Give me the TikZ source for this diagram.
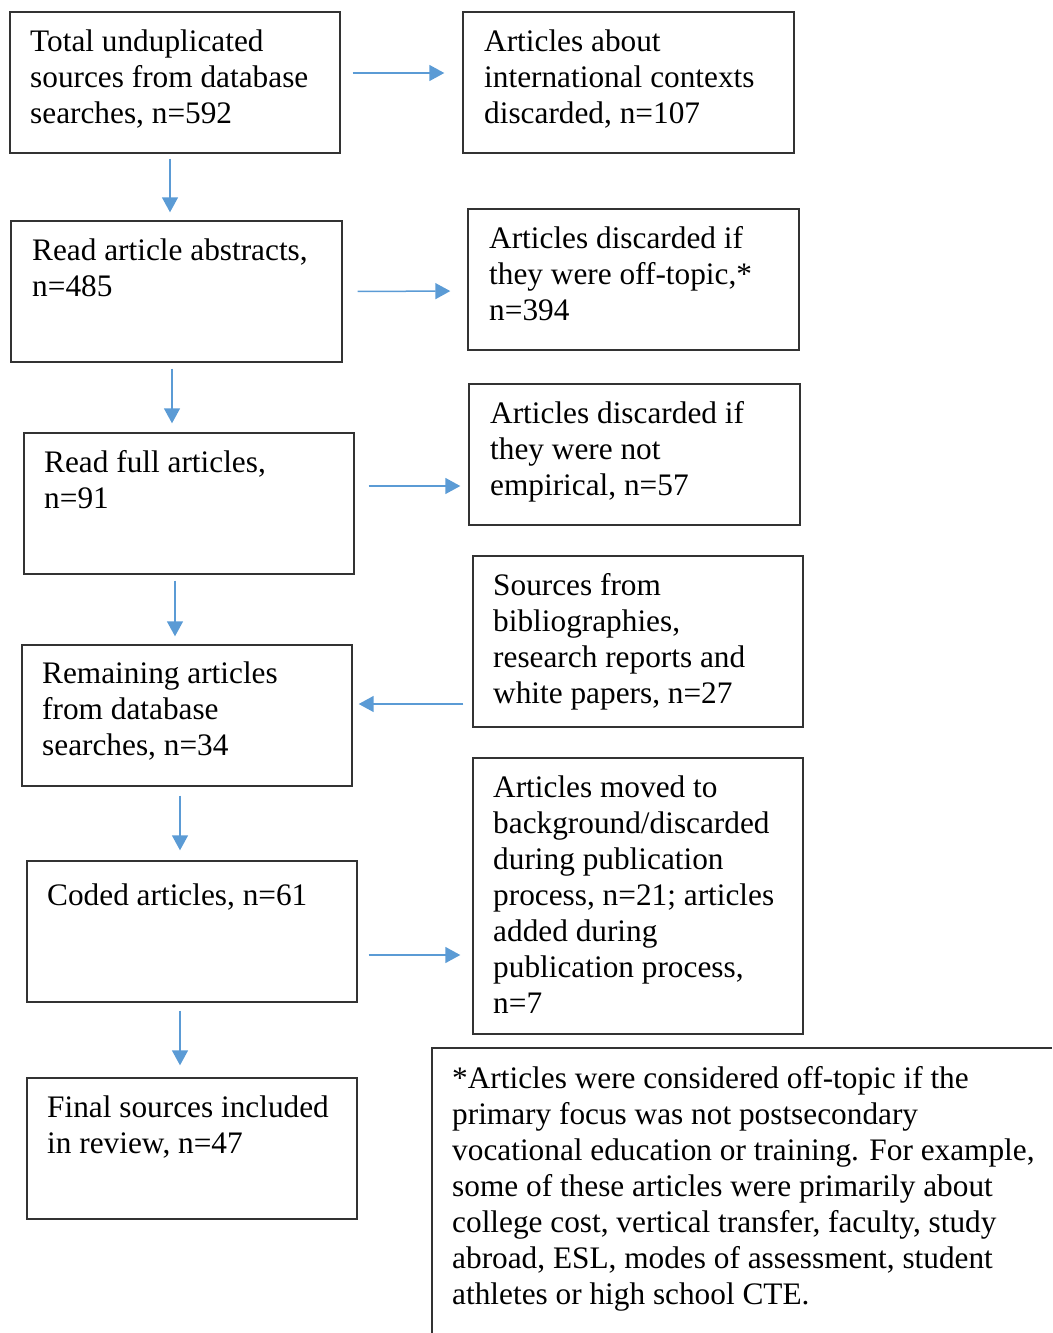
\documentclass[tikz,border=0pt]{standalone}
\usepackage{fontspec}
\setmainfont{Liberation Serif}
\usetikzlibrary{arrows.meta}
\definecolor{arrblue}{HTML}{5B9BD5}
\definecolor{boxline}{HTML}{333333}
\tikzset{
  box/.style={draw=boxline, line width=1.4pt, minimum height=141pt, minimum width=330pt, inner sep=0pt},
  txt/.style={anchor=north west, align=left, inner sep=0pt, font=\fontsize{31.3}{36}\selectfont, execute at begin node=\strut, yshift=22.4pt},
  arr/.style={draw=arrblue, line width=1.5pt, -{Triangle[length=15pt,width=16pt]}}
}
\begin{document}
\begin{tikzpicture}[x=1pt,y=-1pt]
\useasboundingbox (0,0) rectangle (1052,1333);
% boxes
\node[box] (total) at (175,82.5) {};
\node[box, minimum width=331pt] (intl) at (628.5,82.5) {};
\node[box, minimum width=331pt] (abs) at (176.5,291.5) {};
\node[box, minimum width=331pt] (off) at (633.5,279.5) {};
\node[box] (full) at (189,503.5) {};
\node[box, minimum width=331pt] (emp) at (634.5,454.5) {};
\node[box, minimum height=171pt] (src) at (638,641.5) {};
\node[box] (rem) at (187,715.5) {};
\node[box] (coded) at (192,931.5) {};
\node[box, minimum height=276pt] (moved) at (638,896) {};
\node[box] (final) at (192,1148.5) {};
% texts (positions are first-line baselines)
\node[txt] (ttotal) at (30,52) {Total unduplicated\\sources from database\\searches, n=592};
\node[txt] (tintl) at (484,52) {Articles about\\international contexts\\discarded, n=107};
\node[txt] (tabs) at (32,261) {Read article abstracts,\\n=485};
\node[txt] (toff) at (489,249) {Articles discarded if\\they were off-topic,*\\n=394};
\node[txt] (tfull) at (44,473) {Read full articles,\\n=91};
\node[txt] (temp) at (490,424) {Articles discarded if\\they were not\\empirical, n=57};
\node[txt] (tsrc) at (493,596) {Sources from\\bibliographies,\\research reports and\\white papers, n=27};
\node[txt] (trem) at (42,684) {Remaining articles\\from database\\searches, n=34};
\node[txt] (tcoded) at (47,902) {Coded articles, n=61};
\node[txt] (tmoved) at (493,798) {Articles moved to\\background/discarded\\during publication\\process, n=21; articles\\added during\\publication process,\\n=7};
\node[txt] (tfinal) at (47,1118) {Final sources included\\in review, n=47};
\node[txt] (tnote) at (452,1089) {*Articles were considered off-topic if the\\primary focus was not postsecondary\\vocational education or training. For example,\\some of these articles were primarily about\\college cost, vertical transfer, faculty, study\\abroad, ESL, modes of assessment, student\\athletes or high school CTE.};
% footnote frame (cut off at right and bottom)
\coordinate (nbl) at (432,1333);
\coordinate (ntl) at (432,1048);
\coordinate (ntr) at (1052,1048);
\draw[draw=boxline, line width=1.4pt] (nbl) -- (ntl) -- (ntr);
% connectors
\draw[arr, shorten <=12pt, shorten >=18pt] ([yshift=9.5pt]total.east) -- ([yshift=9.5pt]intl.west);
\draw[arr, shorten <=5pt, shorten >=8pt] ([xshift=-5pt]total.south) -- ([xshift=-6.5pt]abs.north);
\draw[arr, shorten <=15pt, shorten >=17pt] (abs.east) -- ([yshift=-11.5pt]off.west);
\draw[arr, shorten <=6pt, shorten >=9pt] ([xshift=-4.5pt]abs.south) -- ([xshift=-17pt]full.north);
\draw[arr, shorten <=14pt, shorten >=8pt] ([yshift=17.5pt]full.east) -- ([yshift=-31.5pt]emp.west);
\draw[arr, shorten <=6pt, shorten >=8pt] ([xshift=-14pt]full.south) -- ([xshift=-12pt]rem.north);
\draw[arr, shorten <=9pt, shorten >=6pt] ([yshift=-62.5pt]src.west) -- ([yshift=11.5pt]rem.east);
\draw[arr, shorten <=9pt, shorten >=10pt] ([xshift=-7pt]rem.south) -- ([xshift=-12pt]coded.north);
\draw[arr, shorten <=11pt, shorten >=12pt] ([yshift=-23.5pt]coded.east) -- ([yshift=-59pt]moved.west);
\draw[arr, shorten <=8pt, shorten >=12pt] ([xshift=-12pt]coded.south) -- ([xshift=-12pt]final.north);
\end{tikzpicture}
\end{document}
